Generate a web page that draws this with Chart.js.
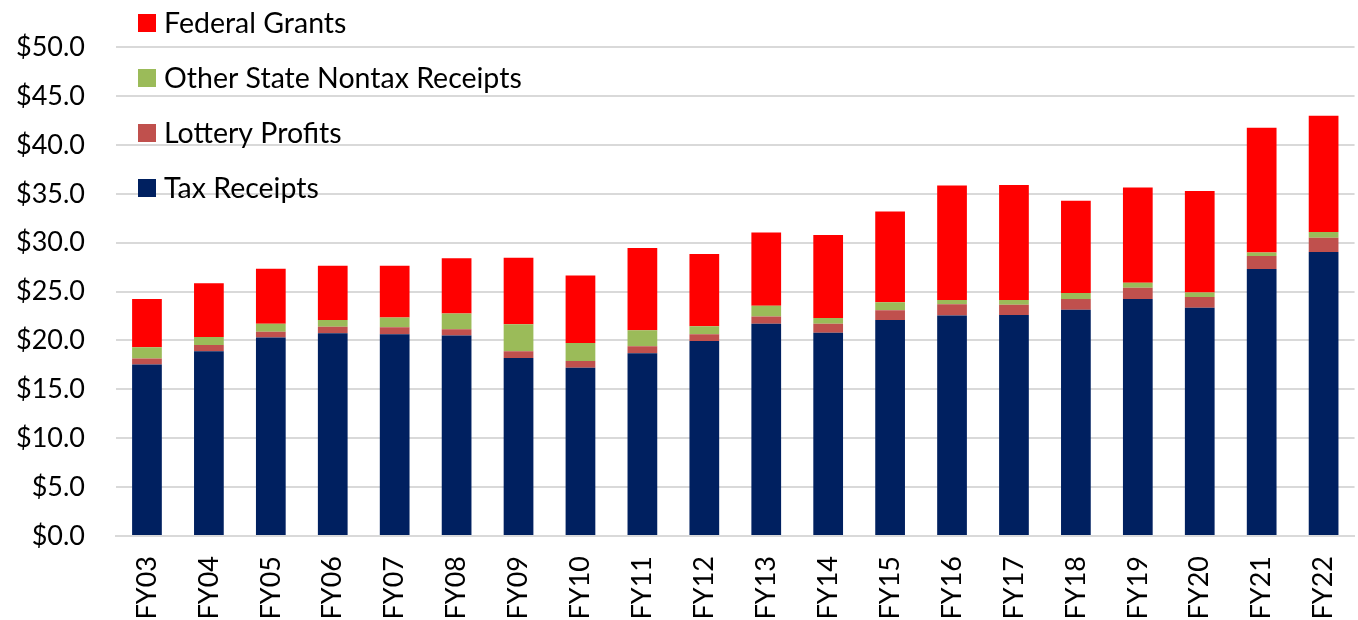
<!DOCTYPE html>
<html>
<head>
<meta charset="utf-8">
<script src="https://cdn.jsdelivr.net/npm/chart.js@4"></script>
<style>
  html, body { margin: 0; padding: 0; background: #fff; overflow: hidden; }
  #wrap { width: 1376px; height: 620px; }
</style>
</head>
<body>
<div id="wrap"><canvas id="revChart"></canvas></div>
<script>
var years = ['FY03','FY04','FY05','FY06','FY07','FY08','FY09','FY10','FY11','FY12',
             'FY13','FY14','FY15','FY16','FY17','FY18','FY19','FY20','FY21','FY22'];
var taxReceipts = [17.55,18.9,20.3,20.75,20.65,20.5,18.2,17.2,18.7,19.95,21.7,20.8,22.1,22.55,22.6,23.15,24.25,23.35,27.3,29.05];
var lotteryProfits = [0.6,0.65,0.6,0.65,0.7,0.65,0.7,0.7,0.7,0.7,0.75,0.9,1.0,1.15,1.05,1.1,1.15,1.1,1.35,1.45];
var otherNontax = [1.15,0.8,0.8,0.7,1.0,1.6,2.75,1.85,1.65,0.8,1.1,0.6,0.8,0.45,0.5,0.6,0.5,0.45,0.35,0.6];
var federalGrants = [4.95,5.5,5.65,5.55,5.3,5.65,6.8,6.9,8.4,7.4,7.5,8.5,9.3,11.7,11.75,9.45,9.75,10.4,12.75,11.9];

var FONT = 'Lato, "Open Sans", sans-serif';

// legend drawn over the plot, top-left, top series first
var overlayLegend = {
  id: 'overlayLegend',
  afterDraw: function(chart) {
    var c = chart.ctx;
    var sets = chart.data.datasets.slice().reverse();
    c.save();
    c.font = '28.5px ' + FONT;
    c.textBaseline = 'middle';
    sets.forEach(function(ds, i) {
      var y = 23 + i * 55;
      c.fillStyle = ds.backgroundColor;
      c.fillRect(138, y - 9, 18, 18);
      c.fillStyle = '#000';
      c.fillText(ds.label, 164, y + 1);
    });
    c.restore();
  }
};

new Chart(document.getElementById('revChart'), {
  type: 'bar',
  data: {
    labels: years,
    datasets: [
      { label: 'Tax Receipts', data: taxReceipts, backgroundColor: '#002060' },
      { label: 'Lottery Profits', data: lotteryProfits, backgroundColor: '#C0504D' },
      { label: 'Other State Nontax Receipts', data: otherNontax, backgroundColor: '#9BBB59' },
      { label: 'Federal Grants', data: federalGrants, backgroundColor: '#FF0000' }
    ]
  },
  options: {
    responsive: true,
    maintainAspectRatio: false,
    animation: false,
    layout: { padding: { top: 45, left: 0, right: 0, bottom: 0 } },
    datasets: { bar: { categoryPercentage: 1.0, barPercentage: 0.48 } },
    plugins: {
      legend: { display: false },
      tooltip: { enabled: false }
    },
    scales: {
      x: {
        stacked: true,
        grid: { display: false, drawTicks: false },
        border: { display: true, color: '#d9d9d9', width: 2 },
        ticks: {
          minRotation: 90, maxRotation: 90,
          padding: 20,
          color: '#000',
          font: { family: FONT, size: 27 }
        },
        afterFit: function(s) { s.height = 84; }
      },
      y: {
        stacked: true,
        min: 0, max: 50,
        grid: { color: '#d9d9d9', lineWidth: 2, drawTicks: false },
        border: { display: false },
        ticks: {
          stepSize: 5,
          padding: 31,
          color: '#000',
          font: { family: FONT, size: 27 },
          callback: function(v) { return '$' + v.toFixed(1); }
        },
        afterFit: function(s) { s.width = 116; }
      }
    }
  },
  plugins: [overlayLegend]
});
</script>
</body>
</html>
